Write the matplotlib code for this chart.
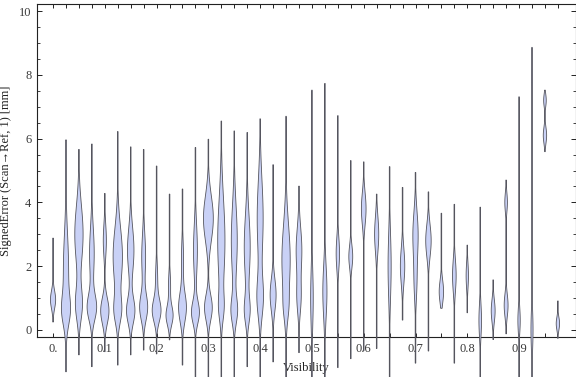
import numpy as np
import matplotlib
matplotlib.use("Agg")
import matplotlib.pyplot as plt
from matplotlib.ticker import MultipleLocator, FixedLocator

plt.rcParams['font.family'] = ['Liberation Serif', 'DejaVu Serif']

# Visibility bins (category centres)
visibility = [0.000, 0.025, 0.050, 0.075, 0.100, 0.125, 0.150, 0.175, 0.200, 0.225,
              0.250, 0.275, 0.300, 0.325, 0.350, 0.375, 0.400, 0.425, 0.450, 0.475,
              0.500, 0.525, 0.550, 0.575, 0.600, 0.625, 0.650, 0.675, 0.700, 0.725,
              0.750, 0.775, 0.800, 0.825, 0.850, 0.875, 0.900, 0.925, 0.950, 0.975]

# Minimum / maximum signed error in each bin [mm]
err_min = [0.25, -1.31, -0.78, -1.15, -0.68, -1.10, -0.78, -0.63, -0.75, -0.31,
           -1.10, -1.60, -1.60, -1.60, -1.60, -1.15, -1.60, -1.00, -1.60, -0.71,
           -1.60, -1.60, -1.18, -0.90, -0.65, -0.58, -1.60, 0.31, -1.04, -0.66,
           0.68, -1.04, 0.54, -1.60, -0.30, -0.12, -1.60, -1.60, 5.59, -0.26]
err_max = [2.88, 5.96, 5.66, 5.83, 4.28, 6.22, 5.74, 5.66, 5.14, 4.26,
           4.42, 5.72, 5.98, 6.55, 6.24, 6.19, 6.62, 5.18, 6.70, 4.51,
           7.52, 7.73, 6.72, 5.31, 5.27, 4.26, 5.12, 4.47, 4.94, 4.33,
           3.66, 3.94, 2.66, 3.85, 1.57, 4.70, 7.31, 8.86, 7.52, 0.91]

# Density modes of each bin: (centre [mm], spread [mm], relative density)
density_modes = [
    [(0.95, 0.28, 2.0)],
    [(0.6, 0.45, 2.5), (1.9, 1.1, 2.0)],
    [(3.0, 0.9, 3.2), (0.8, 0.5, 2.6)],
    [(0.7, 0.4, 3.5), (2.4, 0.8, 1.8)],
    [(0.6, 0.4, 3.2), (2.8, 0.5, 1.2)],
    [(2.3, 0.9, 3.6), (0.6, 0.4, 2.5)],
    [(0.6, 0.4, 3.2), (2.5, 0.7, 2.5)],
    [(0.7, 0.4, 3.0), (2.3, 0.7, 1.5)],
    [(0.6, 0.35, 3.3), (1.6, 0.5, 0.8)],
    [(0.45, 0.3, 2.7), (1.4, 0.4, 0.8)],
    [(0.7, 0.45, 3.0), (2.2, 0.6, 0.8)],
    [(0.55, 0.35, 3.0), (2.5, 0.8, 1.5)],
    [(3.5, 0.7, 3.8), (0.7, 0.4, 3.0)],
    [(2.8, 1.3, 2.8), (0.7, 0.4, 1.5)],
    [(2.8, 1.1, 2.3), (0.6, 0.4, 2.3)],
    [(2.6, 1.0, 2.3), (0.6, 0.4, 2.0)],
    [(1.0, 0.6, 2.3), (3.5, 1.2, 2.3)],
    [(1.1, 0.5, 2.3)],
    [(2.2, 1.1, 3.2), (0.7, 0.4, 1.0)],
    [(2.5, 0.7, 2.2), (1.0, 0.5, 1.5)],
    [(1.0, 0.9, 1.0)],
    [(1.2, 0.8, 1.6)],
    [(2.4, 0.5, 1.3)],
    [(2.3, 0.35, 1.5)],
    [(3.8, 0.5, 1.8)],
    [(3.0, 0.55, 1.6)],
    [(2.0, 1.0, 1.2)],
    [(2.0, 0.55, 1.7)],
    [(3.0, 0.7, 2.0), (1.5, 0.6, 1.0)],
    [(2.8, 0.5, 2.1)],
    [(1.2, 0.35, 1.7)],
    [(1.7, 0.5, 1.4)],
    [(1.7, 0.4, 0.9)],
    [(0.3, 0.5, 1.0)],
    [(0.6, 0.35, 1.5)],
    [(4.0, 0.3, 1.0), (0.77, 0.35, 1.5)],
    [(0.3, 0.4, 0.9)],
    [(0.0, 0.6, 0.8), (7.9, 0.4, 0.4)],
    [(7.2, 0.2, 1.0), (6.1, 0.25, 1.3)],
    [(0.2, 0.2, 1.3)],
]

x_tick_vals = [0.0, 0.1, 0.2, 0.3, 0.4, 0.5, 0.6, 0.7, 0.8, 0.9]
x_tick_labels = ["0.", "0.1", "0.2", "0.3", "0.4", "0.5", "0.6", "0.7", "0.8", "0.9"]
y_tick_vals = [0, 2, 4, 6, 8, 10]

# ---- styling ----
FILL = '#c9d1f6'
EDGE = '#55555e'
WIDTH_PER_UNIT = 1.3 * 0.025 / 13.0   # x-units per density unit
MIN_HALF = 0.3 * 0.025 / 13.0

fig = plt.figure(figsize=(5.76, 3.77), dpi=100)
ax = fig.add_axes([37 / 576, 40 / 377, (575.5 - 37) / 576, 333 / 377])
ax.set_xlim(-0.031, 1.009)
ax.set_ylim(-0.22, 10.22)

for xc, lo, hi, modes in zip(visibility, err_min, err_max, density_modes):
    y = np.linspace(lo, hi, 400)
    dens = np.zeros_like(y)
    for c, s, w in modes:
        dens += w * np.exp(-0.5 * ((y - c) / s) ** 2)
    half = np.maximum(dens * WIDTH_PER_UNIT, MIN_HALF)
    xs = np.concatenate([xc - half, (xc + half)[::-1]])
    ys = np.concatenate([y, y[::-1]])
    ax.fill(xs, ys, facecolor=FILL, edgecolor=EDGE, linewidth=0.6,
            clip_on=False, zorder=3)

# ticks
ax.xaxis.set_major_locator(FixedLocator(x_tick_vals))
ax.set_xticklabels(x_tick_labels)
ax.xaxis.set_minor_locator(FixedLocator([v + 0.05 for v in x_tick_vals]))
ax.yaxis.set_major_locator(FixedLocator(y_tick_vals))
ax.set_yticklabels([str(v) for v in y_tick_vals])
ax.yaxis.set_minor_locator(MultipleLocator(0.5))

ax.tick_params(axis='x', which='both', direction='in', length=3.0, width=0.7,
               labelsize=9, pad=4, colors='#222222', labelcolor='#3a3a3a')
ax.tick_params(axis='y', which='major', direction='in', length=3.5, width=0.7,
               labelsize=9, pad=4, right=True, colors='#222222', labelcolor='#3a3a3a')
ax.tick_params(axis='y', which='minor', direction='in', length=2.0, width=0.6,
               right=True, colors='#222222')

top = ax.secondary_xaxis('top')
top.set_xticks(visibility)
top.tick_params(direction='in', length=3.0, width=0.7, labeltop=False, colors='#222222')
top.set_xticklabels([])

for sp in ax.spines.values():
    sp.set_linewidth(0.8)
    sp.set_color('#222222')
top.spines['top'].set_visible(False)

ax.set_xlabel('Visibility', fontsize=9, labelpad=5, color='#222222')
ax.set_ylabel('SignedError (Scan\u2192Ref, 1) [mm]', fontsize=9, labelpad=5,
              color='#222222')

fig.savefig('out.png', dpi=100)
